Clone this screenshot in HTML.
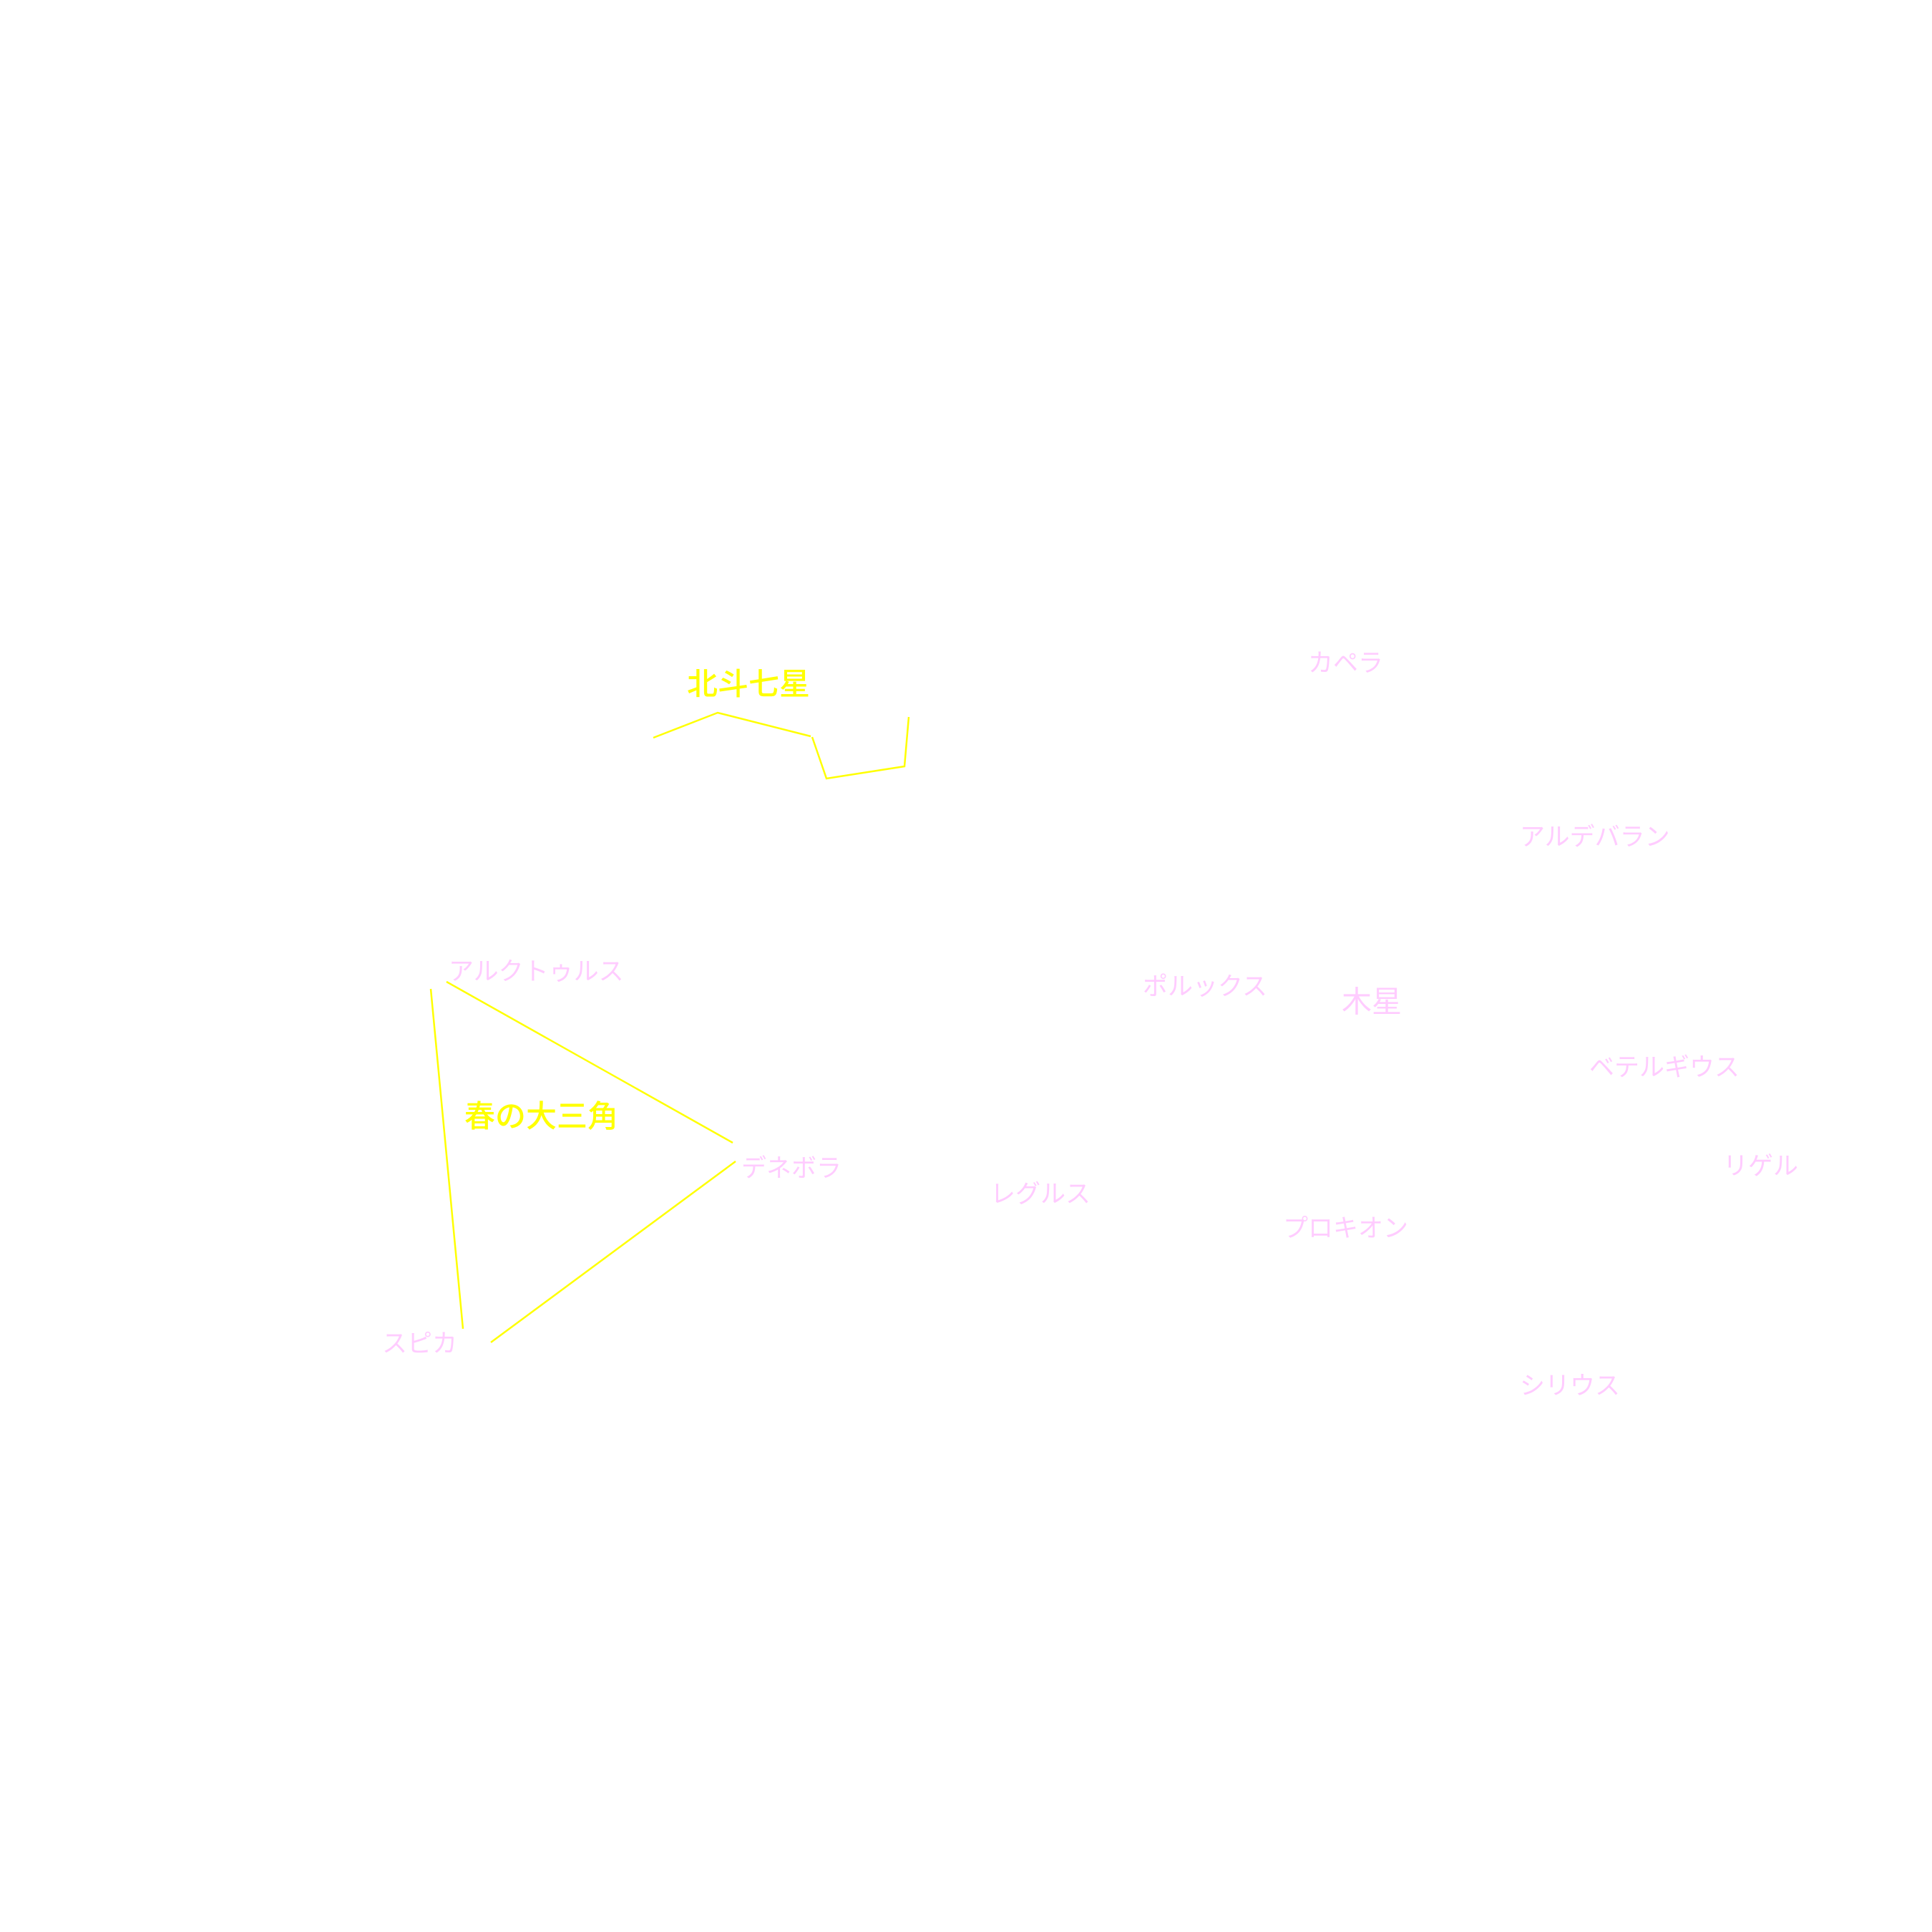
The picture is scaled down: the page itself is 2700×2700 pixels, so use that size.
<!DOCTYPE html>
<html><head><meta charset="utf-8"><style>
html,body{margin:0;padding:0;background:#fff;}
svg{display:block;}
text{font-family:"Liberation Sans","Noto Sans CJK JP",sans-serif;dominant-baseline:central;}
.p{fill:#ffccff;font-size:35px;}
.y{fill:#ffff00;font-size:43px;font-weight:500;}
</style></head><body>
<svg width="2700" height="2700" viewBox="0 0 2700 2700" xmlns="http://www.w3.org/2000/svg">
<rect width="2700" height="2700" fill="#fff"/>
<g stroke="#ffff00" stroke-width="2.5" fill="none">
<polyline points="913,1031 1003,996 1133,1029"/>
<polyline points="1135,1030 1155,1088 1264,1071 1270,1002"/>
<line x1="624" y1="1372" x2="1024" y2="1597"/>
<line x1="602" y1="1382" x2="647" y2="1857"/>
<line x1="1028" y1="1623" x2="686" y2="1876"/>
</g>
<text class="y" x="960" y="957">北斗七星</text>
<text class="y" x="649" y="1561">春の大三角</text>
<text class="p" x="627" y="1358">アルクトゥルス</text>
<text class="p" x="1036" y="1633">デネボラ</text>
<text class="p" x="534" y="1878">スピカ</text>
<text class="p" x="1828" y="927">カペラ</text>
<text class="p" x="2124" y="1170">アルデバラン</text>
<text class="p" x="1597" y="1379">ポルックス</text>
<text class="p" x="1875" y="1400" style="font-size:42px">木星</text>
<text class="p" x="2221" y="1492">ベテルギウス</text>
<text class="p" x="2408" y="1630">リゲル</text>
<text class="p" x="1384" y="1669">レグルス</text>
<text class="p" x="1793" y="1717">プロキオン</text>
<text class="p" x="2124" y="1937">シリウス</text>
</svg>
</body></html>
